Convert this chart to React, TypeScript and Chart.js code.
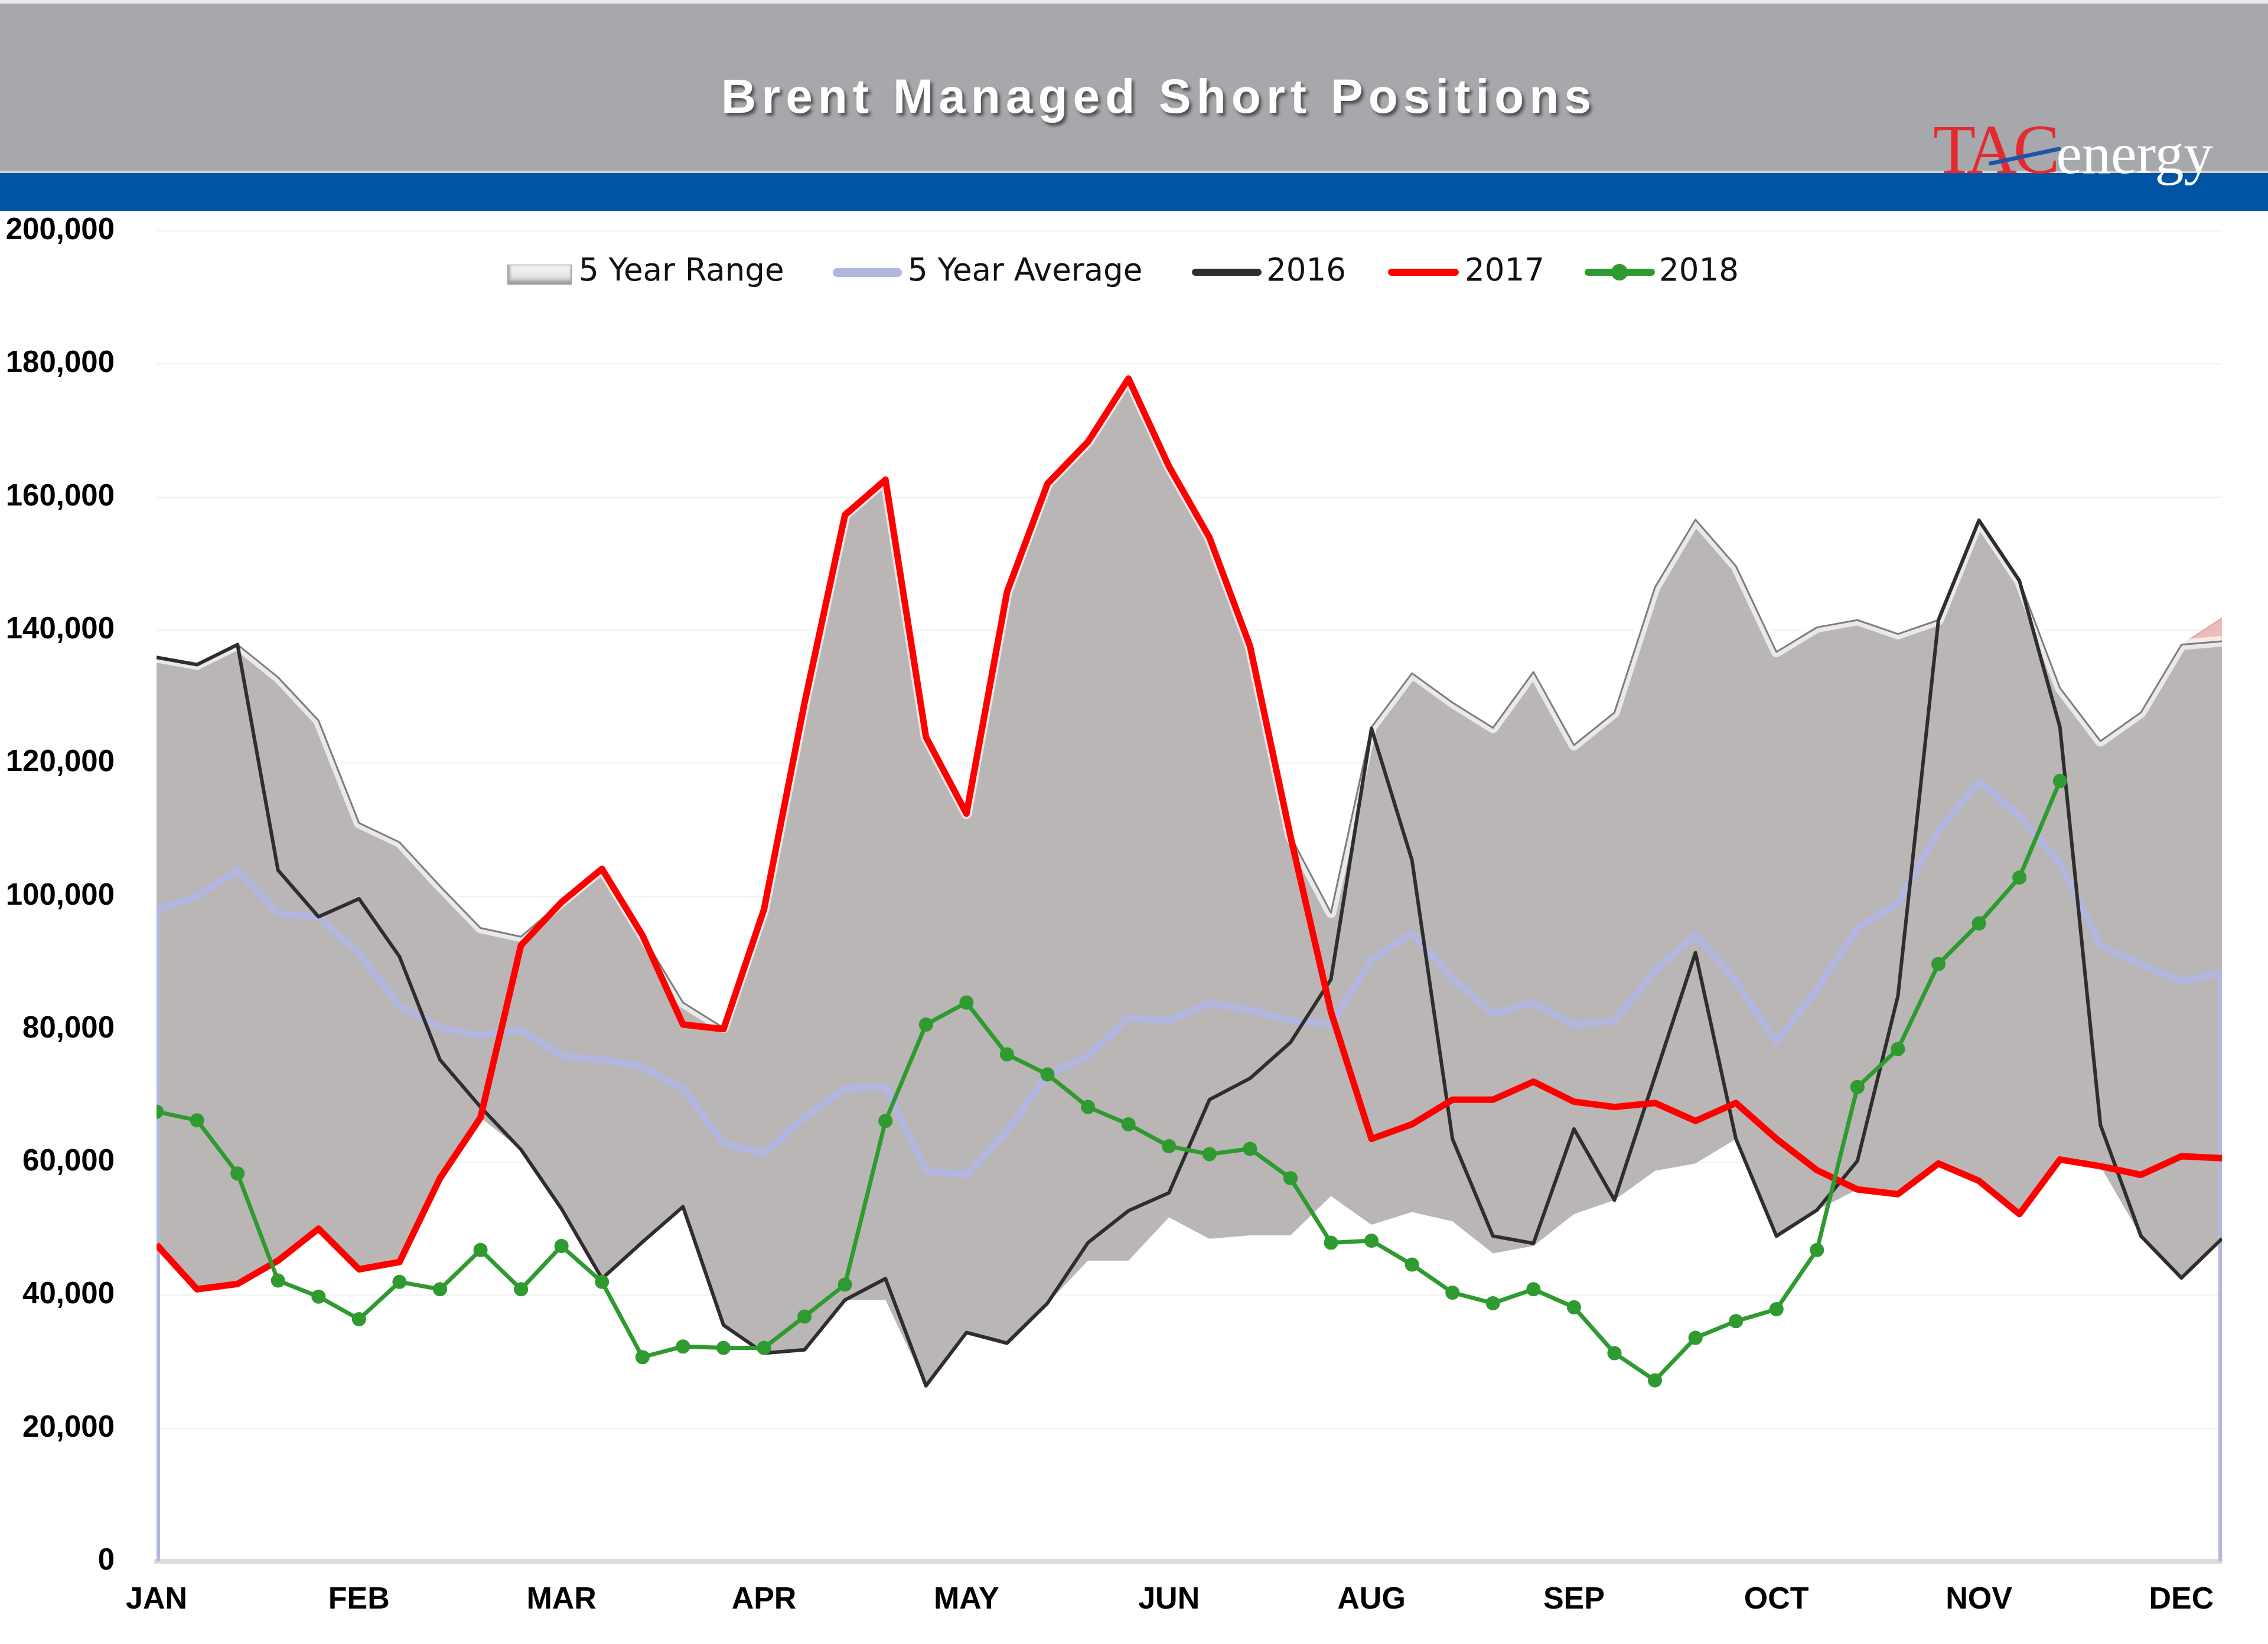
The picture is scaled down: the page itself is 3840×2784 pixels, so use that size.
import React, { useEffect, useRef } from 'react';
import { Chart, registerables } from 'chart.js';

Chart.register(...registerables);

// ---- Data (weekly, 52 weeks) ----
const monthLabels = ['JAN', 'FEB', 'MAR', 'APR', 'MAY', 'JUN', 'AUG', 'SEP', 'OCT', 'NOV', 'DEC'];
const labelEvery = 5;
const yTickStep = 20000;
const yMax = 200000;

const range5High = [135900, 134800, 137800, 132900, 126400, 111000, 108100, 101500, 95200, 93900,
  99100, 104100, 94100, 84000, 80200, 98000, 129000, 157300, 162600, 123900,
  112400, 145700, 162000, 168300, 177800, 164600, 153900, 137600, 109000, 97500,
  125400, 133500, 129100, 125300, 133700, 122700, 127600, 146400, 156600, 149600,
  136700, 140400, 141500, 139400, 141500, 156500, 147400, 131300, 123300, 127600, 137800, 138300];

const range5Low = [47600, 40900, 41700, 45200, 50000, 43900, 45000, 57600, 66700, 61900,
  53000, 42500, 48000, 53300, 35500, 31300, 31800, 39300, 39300, 26400,
  34400, 32800, 38800, 45200, 45200, 51700, 48500, 49000, 49000, 54900,
  50600, 52500, 51100, 46300, 47400, 52200, 54300, 58700, 59800, 63500,
  48900, 52800, 55900, 55200, 59800, 57200, 52200, 60400, 59400, 48900, 42600, 48500];

const rangeTopAlt = [137800, 141800];
const rangeTopAltStart = 50;

const avg5 = [97900, 100000, 103900, 97400, 96900, 91400, 83500, 80200, 79100, 79900,
  76000, 75400, 74300, 71100, 62900, 61300, 66700, 71100, 71300, 58700,
  58100, 64600, 73200, 75900, 81700, 81300, 83900, 82900, 81300, 80700,
  90400, 94500, 87700, 82300, 84000, 80700, 81200, 88800, 94200, 87200,
  78000, 86000, 95200, 99000, 109800, 117200, 112000, 105000, 92600, 89800, 87200, 88500];
const avgEnds = [0, 0];

const y2016 = [135900, 134800, 137800, 103900, 96900, 99600, 90900, 75400, 68300, 61900,
  53000, 42500, 48000, 53300, 35500, 31300, 31800, 39300, 42500, 26400,
  34400, 32800, 38800, 47900, 52700, 55400, 69400, 72600, 78000, 87500,
  125200, 105400, 63500, 48900, 47800, 65000, 54300, 72900, 91500, 63500,
  48900, 52800, 60200, 85000, 141500, 156500, 147400, 125400, 65600, 48900, 42600, 48500];

const y2017 = [47600, 40900, 41700, 45200, 50000, 43900, 45000, 57600, 66700, 92600,
  99100, 104100, 94100, 80700, 80000, 98000, 129000, 157300, 162600, 123900,
  112400, 145700, 162000, 168300, 177800, 164600, 153900, 137600, 109000, 82600,
  63500, 65700, 69400, 69400, 72100, 69100, 68300, 68900, 66200, 68900,
  63500, 58800, 55900, 55200, 59800, 57200, 52200, 60400, 59400, 58100, 60900, 60600];

const y2018 = [67600, 66300, 58300, 42200, 39800, 36400, 42000, 40900, 46800, 40900,
  47400, 42000, 30700, 32300, 32100, 32100, 36800, 41600, 66200, 80700,
  84000, 76200, 73200, 68300, 65700, 62400, 61200, 62000, 57600, 47900,
  48200, 44600, 40400, 38800, 40900, 38200, 31300, 27200, 33600, 36100,
  37900, 46800, 71300, 77000, 89800, 95900, 102800, 117300];

const legendItems = ['5 Year Range', '5 Year Average', '2016', '2017', '2018'];

const COLORS = {
  band: '#bab6b5',
  avg: '#b3b6df',
  y2016: '#2e2e2e',
  y2017: '#ff0000',
  y2018: '#2f9a30',
};

const pts = (arr: number[], start = 0) => arr.map((v, i) => ({ x: start + i, y: v }));

export default function App() {
  const ref = useRef<HTMLCanvasElement | null>(null);

  useEffect(() => {
    document.body.style.margin = '0';
    const canvas = ref.current;
    if (!canvas) return;
    const lastIdx = avg5.length - 1;
    const avgPts = [{ x: 0, y: avgEnds[0] }, ...pts(avg5), { x: lastIdx, y: avgEnds[1] }];

    const chart = new Chart(canvas, {
      type: 'line',
      data: {
        datasets: [
          {
            label: '2018', data: pts(y2018), borderColor: COLORS.y2018, backgroundColor: COLORS.y2018,
            borderWidth: 7, pointRadius: 12, pointHoverRadius: 12, pointBorderWidth: 0,
            pointBackgroundColor: COLORS.y2018, fill: false, order: 0,
          },
          {
            label: '2017', data: pts(y2017), borderColor: COLORS.y2017, borderWidth: 11,
            pointRadius: 0, fill: false, order: 1,
          },
          {
            label: '2016', data: pts(y2016), borderColor: COLORS.y2016, borderWidth: 6,
            pointRadius: 0, fill: false, order: 2,
          },
          {
            label: '5 Year Average', data: avgPts, borderColor: COLORS.avg, borderWidth: 12,
            pointRadius: 0, fill: false, order: 3,
          },
          {
            label: 'edge', data: pts(range5High), borderColor: 'rgba(105,105,105,0.85)', borderWidth: 3,
            pointRadius: 0, fill: false, order: 4,
          },
          {
            label: 'highlight', data: pts(range5High), borderColor: 'rgba(255,255,255,0.7)', borderWidth: 18,
            pointRadius: 0, fill: false, order: 5,
          },
          {
            label: 'alt', data: pts(rangeTopAlt, rangeTopAltStart), borderColor: 'rgba(220,140,140,0.7)', borderWidth: 2,
            backgroundColor: 'rgba(232,170,170,0.8)', pointRadius: 0, fill: '+1', order: 6,
          },
          {
            label: '5 Year Range', data: pts(range5High), borderColor: 'rgba(0,0,0,0)', borderWidth: 0,
            backgroundColor: COLORS.band, pointRadius: 0, fill: '+1', order: 7,
          },
          {
            label: 'low', data: pts(range5Low), borderColor: 'rgba(0,0,0,0)', borderWidth: 0,
            pointRadius: 0, fill: false, order: 8,
          },
        ],
      },
      options: {
        responsive: false,
        animation: false,
        devicePixelRatio: 1,
        layout: { padding: { left: 0, right: 78, top: 391, bottom: 0 } },
        elements: { line: { tension: 0, borderJoinStyle: 'round', borderCapStyle: 'butt' } },
        plugins: { legend: { display: false }, tooltip: { enabled: false }, title: { display: false } },
        scales: {
          x: {
            type: 'linear', min: 0, max: lastIdx,
            afterBuildTicks: (s: any) => {
              s.ticks = monthLabels.map((_, i) => ({ value: i * labelEvery }));
            },
            afterFit: (s: any) => { s.height = 140; },
            grid: { display: false, drawTicks: false },
            border: { display: true, color: '#dcdcdc', width: 8 },
            ticks: {
              autoSkip: false, maxRotation: 0, minRotation: 0, padding: 34,
              color: '#000',
              font: { family: 'Liberation Sans, Arial, sans-serif', weight: 'bold', size: 52 },
              callback: (value: any) => {
                const v = Number(value);
                return v % labelEvery === 0 ? (monthLabels[v / labelEvery] ?? '') : '';
              },
            },
          },
          y: {
            min: 0, max: yMax,
            afterFit: (s: any) => { s.width = 265; },
            grid: { color: '#f1f1f1', lineWidth: 2, drawTicks: false },
            border: { display: false },
            ticks: {
              stepSize: yTickStep, padding: 71, color: '#000',
              font: { family: 'Liberation Sans, Arial, sans-serif', weight: 'bold', size: 51 },
              callback: (value: any) => Number(value).toLocaleString('en-US'),
            },
          },
        },
      },
    });
    return () => chart.destroy();
  }, []);

  const legendText: React.CSSProperties = {
    position: 'absolute', top: 426, lineHeight: '62px', fontSize: 53,
    fontFamily: 'DejaVu Sans, sans-serif', color: '#111', whiteSpace: 'nowrap',
  };
  const lineSw = (left: number, width: number, h: number, color: string): React.CSSProperties => ({
    position: 'absolute', left, top: 461 - h / 2, width, height: h, background: color, borderRadius: h / 2,
  });

  return (
    <div style={{ position: 'relative', width: 3840, height: 2784, background: '#fff', overflow: 'hidden' }}>
      {/* header */}
      <div style={{ position: 'absolute', left: 0, top: 0, width: 3840, height: 6, background: '#ececec' }} />
      <div style={{ position: 'absolute', left: 0, top: 6, width: 3840, height: 283, background: '#a7a8ac' }} />
      <div style={{ position: 'absolute', left: 0, top: 289, width: 3840, height: 4, background: '#d4d0ca' }} />
      <div style={{ position: 'absolute', left: 0, top: 293, width: 3840, height: 64, background: '#0054a4' }} />
      <div style={{
        position: 'absolute', left: 0, top: 122, width: 3924, textAlign: 'center', color: '#fff',
        fontFamily: 'Liberation Sans, Arial, sans-serif', fontWeight: 'bold', fontSize: 82, lineHeight: '82px',
        letterSpacing: 9, textShadow: '4px 5px 5px rgba(50,50,50,0.75)', whiteSpace: 'nowrap',
      }}>Brent Managed Short Positions</div>
      {/* logo */}
      <div style={{
        position: 'absolute', left: 3273, top: 196, lineHeight: '115px', whiteSpace: 'nowrap',
        fontFamily: 'Liberation Serif, Times New Roman, serif',
      }}>
        <span style={{ fontSize: 118, color: '#e42a2f', letterSpacing: -6 }}>TAC</span>
        <span style={{ fontSize: 98, color: '#fff' }}>energy</span>
      </div>
      <div style={{
        position: 'absolute', left: 3367, top: 274, width: 125, height: 7, background: '#1f55a8',
        borderRadius: 3, transform: 'rotate(-12deg)', transformOrigin: '0 50%',
      }} />

      <canvas ref={ref} width={3840} height={2784}
        style={{ position: 'absolute', left: 0, top: 0, width: 3840, height: 2784 }} />

      {/* legend */}
      <div style={{
        position: 'absolute', left: 859, top: 448, width: 107, height: 32,
        background: 'linear-gradient(to bottom, #f7f7f7 0%, #e6e6e6 55%, #bdbdbd 100%)',
        boxShadow: 'inset 0 -5px 4px #9c9c9c, inset 4px 0 4px #b0b0b0', border: '1px solid #a0a0a0',
      }} />
      <div style={{ ...legendText, left: 980 }}>{legendItems[0]}</div>
      <div style={lineSw(1410, 117, 15, COLORS.avg)} />
      <div style={{ ...legendText, left: 1537 }}>{legendItems[1]}</div>
      <div style={lineSw(2018, 118, 12, COLORS.y2016)} />
      <div style={{ ...legendText, left: 2144 }}>{legendItems[2]}</div>
      <div style={lineSw(2350, 120, 12, COLORS.y2017)} />
      <div style={{ ...legendText, left: 2480 }}>{legendItems[3]}</div>
      <div style={lineSw(2683, 119, 12, COLORS.y2018)} />
      <div style={{ position: 'absolute', left: 2742 - 14, top: 461 - 14, width: 28, height: 28, borderRadius: 14, background: COLORS.y2018 }} />
      <div style={{ ...legendText, left: 2809 }}>{legendItems[4]}</div>
    </div>
  );
}
